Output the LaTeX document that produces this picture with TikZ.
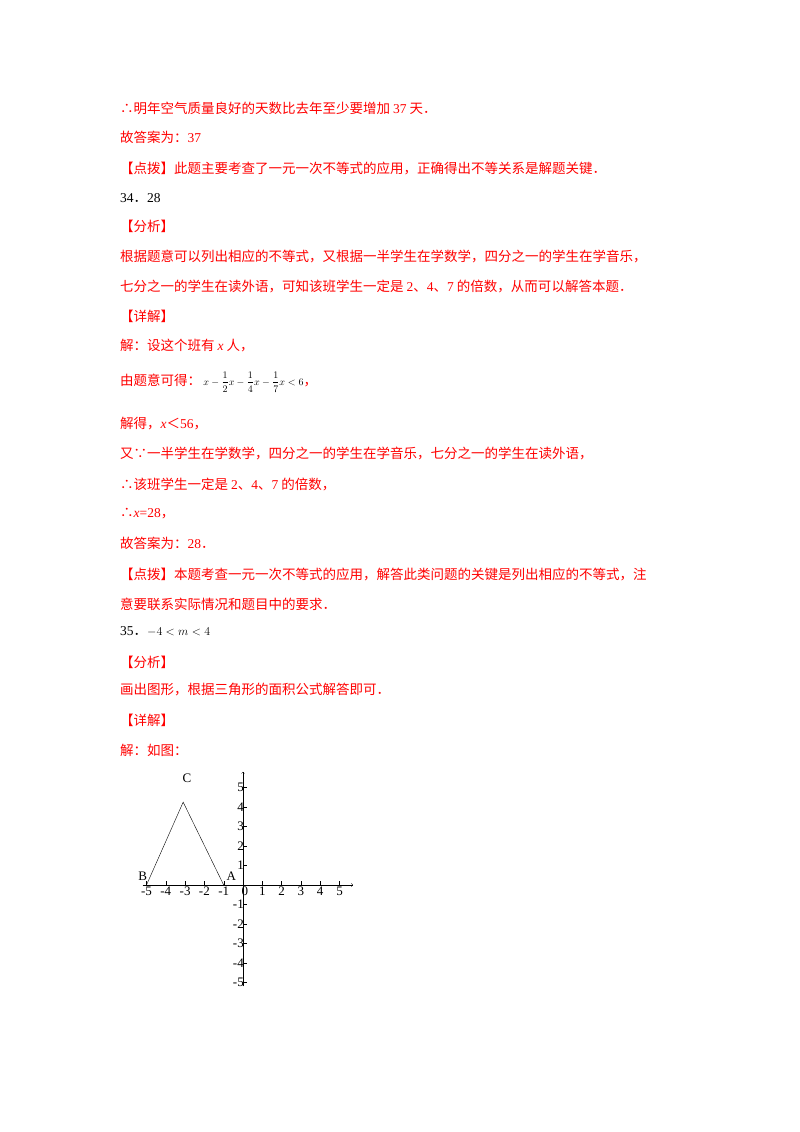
\documentclass[tikz,border=0pt]{standalone}
\usepackage{fontspec}
\setmainfont{Liberation Serif}
\newfontfamily\cjk{Noto Sans CJK SC}
\begin{document}
\begin{tikzpicture}[x=1pt,y=-1pt,
  txt/.style={anchor=west,inner sep=0pt,font=\fontsize{13.5}{16}\selectfont\cjk,text=red},
  blk/.style={txt,text=black},
  num/.style={inner sep=0pt,font=\fontsize{13}{14}\selectfont}]
\useasboundingbox (0,0) rectangle (800,1132);
\node[txt] (l1) at (120,108) {∴明年空气质量良好的天数比去年至少要增加 {\rmfamily 37} 天．};
\node[txt] (l2) at (120,137) {故答案为：{\rmfamily 37}};
\node[txt] (l3) at (120,168) {【点拨】此题主要考查了一元一次不等式的应用，正确得出不等关系是解题关键．};
\node[blk] (l4) at (120,198) {{\rmfamily 34}．{\rmfamily 28}};
\node[txt] (l5) at (120,226) {【分析】};
\node[txt] (l6) at (120,256) {根据题意可以列出相应的不等式，又根据一半学生在学数学，四分之一的学生在学音乐，};
\node[txt] (l7) at (120,286) {七分之一的学生在读外语，可知该班学生一定是 {\rmfamily 2}、{\rmfamily 4}、{\rmfamily 7} 的倍数，从而可以解答本题．};
\node[txt] (l8) at (120,316) {【详解】};
\node[txt] (l9) at (120,346) {解：设这个班有 {\rmfamily\itshape x} 人，};
\node[txt] (l10) at (120,382) {由题意可得：\,{\rmfamily\color{black}\fontsize{10}{11}\selectfont$\displaystyle x-\frac{1}{2}x-\frac{1}{4}x-\frac{1}{7}x<6$}，};
\node[txt] (l11) at (120,424) {解得，{\rmfamily\itshape x}＜{\rmfamily 56}，};
\node[txt] (l12) at (120,453) {又∵一半学生在学数学，四分之一的学生在学音乐，七分之一的学生在读外语，};
\node[txt] (l13) at (120,484) {∴该班学生一定是 {\rmfamily 2}、{\rmfamily 4}、{\rmfamily 7} 的倍数，};
\node[txt] (l14) at (120,514) {∴{\rmfamily\itshape x\upshape =28}，};
\node[txt] (l15) at (120,543) {故答案为：{\rmfamily 28}．};
\node[txt] (l16) at (120,574) {【点拨】本题考查一元一次不等式的应用，解答此类问题的关键是列出相应的不等式，注};
\node[txt] (l17) at (120,604) {意要联系实际情况和题目中的要求．};
\node[blk] (l18) at (120,632) {{\rmfamily 35}．{\rmfamily\fontsize{13}{15}\selectfont$-4<m<4$}};
\node[txt] (l19) at (120,662) {【分析】};
\node[txt] (l20) at (120,690) {画出图形，根据三角形的面积公式解答即可．};
\node[txt] (l21) at (120,720) {【详解】};
\node[txt] (l22) at (120,750) {解：如图：};
% graph
\begin{scope}[shift={(243,885)},x=19.3pt,y=19.5pt]
\coordinate (xl) at (-5.2,0); \coordinate (xr) at (5.7,0);
\coordinate (yb) at (0,-5.2); \coordinate (yt) at (0,5.8);
\draw[->,thin] (xl) -- (xr);
\draw[->,thin] (yb) -- (yt);
\foreach \i in {-5,...,5}{\ifnum\i=0\else
  \draw[thin] (\i,0) -- (\i,0.2);
  \draw[thin] (0,\i) -- (0.2,\i);
  \node[num,anchor=north] at (\i,-0.1) {\i};
  \node[num,anchor=east] at (0.05,\i) {\i};\fi}
\node[num,anchor=north] at (0.1,-0.1) {0};
\coordinate (B) at (-5,0); \coordinate (A) at (-1,0); \coordinate (C) at (-3.1,4.25);
\draw[thin] (B) -- (C) -- (A);
\node[num] (lc) at (-2.9,5.5) {C};
\node[num] (lb) at (-5.2,0.45) {B};
\node[num] (la) at (-0.6,0.45) {A};
\end{scope}
\end{tikzpicture}
\end{document}
